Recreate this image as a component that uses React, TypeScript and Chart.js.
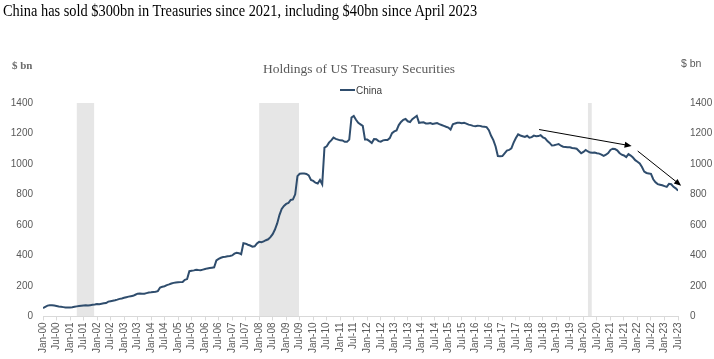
import React, { useEffect, useRef } from 'react';
import { Chart, registerables } from 'chart.js';

Chart.register(...registerables);

// ---- data ----
const MAIN_TITLE = 'China has sold $300bn in Treasuries since 2021, including $40bn since April 2023';
const CHART_TITLE = 'Holdings of US Treasury Securities';
const SERIES_LABEL = 'China';
const UNIT_LABEL = '$ bn';
const MONTHS = ['Jan', 'Feb', 'Mar', 'Apr', 'May', 'Jun', 'Jul', 'Aug', 'Sep', 'Oct', 'Nov', 'Dec'];
const START_YEAR = 2000;
const TICK_MONTH_STEP = 6;
const Y_MIN = 0;
const Y_MAX = 1400;
const Y_STEP = 200;

// Monthly holdings, $bn, Jan-00 .. Jul-23
const chinaHoldings = [
  55, 63, 71, 73, 73, 71, 68, 65, 63, 61, 59, 58, // 2000
  58, 60, 63, 66, 68, 70, 72, 73, 72, 74, 76, 78, // 2001
  81, 80, 83, 86, 88, 97, 100, 103, 106, 110, 115, 118, // 2002
  122, 126, 130, 133, 135, 142, 149, 150, 148, 149, 153, 157, // 2003
  158, 160, 162, 166, 190, 195, 198, 205, 210, 216, 220, 223, // 2004
  224, 225, 226, 240, 245, 297, 300, 302, 306, 304, 303, 307, // 2005
  311, 315, 318, 320, 322, 368, 378, 385, 390, 392, 395, 396, // 2006
  400, 412, 418, 415, 408, 480, 477, 470, 465, 458, 460, 478, // 2007
  489, 487, 492, 500, 506, 520, 540, 570, 610, 665, 705, 725, // 2008
  738, 744, 764, 768, 801, 920, 936, 938, 937, 935, 925, 895, // 2009
  889, 877, 872, 895, 867, 1108, 1116, 1140, 1155, 1173, 1165, 1160, // 2010
  1155, 1154, 1145, 1145, 1160, 1305, 1315, 1290, 1270, 1260, 1250, 1160, // 2011
  1160, 1150, 1138, 1163, 1162, 1150, 1146, 1155, 1157, 1157, 1170, 1202, // 2012
  1214, 1220, 1255, 1276, 1290, 1295, 1280, 1275, 1294, 1305, 1316, 1270, // 2013
  1272, 1273, 1266, 1266, 1268, 1262, 1265, 1268, 1261, 1256, 1250, 1244, // 2014
  1239, 1226, 1260, 1266, 1270, 1271, 1268, 1270, 1265, 1258, 1255, 1250, // 2015
  1247, 1251, 1250, 1246, 1244, 1242, 1222, 1185, 1157, 1115, 1052, 1050, // 2016
  1052, 1070, 1088, 1092, 1103, 1140, 1170, 1194, 1187, 1182, 1177, 1185, // 2017
  1172, 1176, 1186, 1182, 1183, 1189, 1175, 1168, 1150, 1138, 1121, 1123, // 2018
  1127, 1131, 1120, 1113, 1112, 1110, 1110, 1105, 1103, 1100, 1085, 1070, // 2019
  1079, 1092, 1082, 1075, 1074, 1075, 1071, 1068, 1062, 1053, 1061, 1072, // 2020
  1092, 1100, 1098, 1090, 1072, 1061, 1056, 1045, 1065, 1055, 1042, 1025, // 2021
  1015, 1003, 980, 950, 941, 938, 935, 900, 880, 868, 864, 860, // 2022
  855, 850, 870, 867, 850, 840, 825, // 2023
];

// Recession shading, month index from Jan-00
const recessionStart = [15, 96, 242];
const recessionEnd = [22.7, 113.7, 243.7];

// Annotation arrows (month index, $bn)
const arrowStartX = [220.3, 264.1];
const arrowStartY = [1226, 1085];
const arrowEndX = [261.4, 283.4];
const arrowEndY = [1118, 858];

// ---- styles ----
const LINE_COLOR = '#2f4d6d';
const TICK_COLOR = '#595959';
const SHADE_COLOR = '#e6e6e6';
const SANS = '"Liberation Sans", Arial, sans-serif';
const SERIF = '"Liberation Serif", "Times New Roman", serif';

function monthLabel(i: number): string {
  const m = ((i % 12) + 12) % 12;
  const y = START_YEAR + Math.floor(i / 12);
  return `${MONTHS[m]}-${String(y % 100).padStart(2, '0')}`;
}

const decorPlugin = {
  id: 'decor',
  beforeDraw(chart: any) {
    const { ctx, scales } = chart;
    const x = scales.x;
    const y = scales.y;
    ctx.save();
    ctx.fillStyle = '#ffffff';
    ctx.fillRect(0, 0, chart.width, chart.height);
    ctx.fillStyle = SHADE_COLOR;
    const top = y.getPixelForValue(Y_MAX);
    const bottom = y.getPixelForValue(Y_MIN);
    for (let k = 0; k < recessionStart.length; k++) {
      const x0 = x.getPixelForValue(recessionStart[k]);
      const x1 = x.getPixelForValue(recessionEnd[k]);
      ctx.fillRect(x0, top, x1 - x0, bottom - top);
    }
    ctx.restore();
  },
  afterDraw(chart: any) {
    const { ctx, scales } = chart;
    const x = scales.x;
    const y = scales.y;
    ctx.save();
    // arrows
    ctx.strokeStyle = '#000000';
    ctx.fillStyle = '#000000';
    ctx.lineWidth = 1;
    for (let k = 0; k < arrowStartX.length; k++) {
      const x0 = x.getPixelForValue(arrowStartX[k]);
      const y0 = y.getPixelForValue(arrowStartY[k]);
      const x1 = x.getPixelForValue(arrowEndX[k]);
      const y1 = y.getPixelForValue(arrowEndY[k]);
      const ang = Math.atan2(y1 - y0, x1 - x0);
      const head = 7;
      const half = 3;
      ctx.beginPath();
      ctx.moveTo(x0, y0);
      ctx.lineTo(x1 - Math.cos(ang) * head * 0.8, y1 - Math.sin(ang) * head * 0.8);
      ctx.stroke();
      ctx.beginPath();
      ctx.moveTo(x1, y1);
      ctx.lineTo(
        x1 - Math.cos(ang) * head + Math.sin(ang) * half,
        y1 - Math.sin(ang) * head - Math.cos(ang) * half
      );
      ctx.lineTo(
        x1 - Math.cos(ang) * head - Math.sin(ang) * half,
        y1 - Math.sin(ang) * head + Math.cos(ang) * half
      );
      ctx.closePath();
      ctx.fill();
    }
    // chart title
    ctx.fillStyle = '#595959';
    ctx.font = `13.5px ${SERIF}`;
    ctx.textBaseline = 'alphabetic';
    ctx.textAlign = 'center';
    ctx.fillText(CHART_TITLE, 359, 73);
    // unit labels
    ctx.textAlign = 'left';
    ctx.font = `bold 11px ${SERIF}`;
    ctx.fillStyle = '#6b6b6b';
    ctx.fillText(UNIT_LABEL, 12, 69);
    ctx.font = `10.5px ${SANS}`;
    ctx.fillStyle = TICK_COLOR;
    ctx.fillText(UNIT_LABEL, 681, 67);
    // legend
    ctx.strokeStyle = LINE_COLOR;
    ctx.lineWidth = 2;
    ctx.beginPath();
    ctx.moveTo(340, 90);
    ctx.lineTo(355, 90);
    ctx.stroke();
    ctx.fillStyle = '#404040';
    ctx.font = `10px ${SANS}`;
    ctx.fillText(SERIES_LABEL, 356, 93.5);
    ctx.restore();
  },
};

export default function App() {
  const canvasRef = useRef<HTMLCanvasElement | null>(null);

  useEffect(() => {
    const canvas = canvasRef.current;
    if (!canvas) return;
    const points = chinaHoldings.map((v, i) => ({ x: i, y: v }));
    const lastIndex = chinaHoldings.length - 1;
    const tickFont = { family: SANS, size: 10 };
    const chart = new Chart(canvas, {
      type: 'line',
      data: {
        datasets: [
          {
            label: SERIES_LABEL,
            data: points,
            borderColor: LINE_COLOR,
            backgroundColor: LINE_COLOR,
            borderWidth: 2,
            pointRadius: 0,
            tension: 0,
            fill: false,
          },
        ],
      },
      options: {
        responsive: false,
        animation: false,
        devicePixelRatio: 1,
        layout: { padding: { top: 103, left: 0, right: 0, bottom: 4 } },
        plugins: {
          legend: { display: false },
          title: { display: false },
          tooltip: { enabled: false },
        },
        scales: {
          x: {
            type: 'linear',
            min: 0,
            max: lastIndex,
            ticks: {
              stepSize: TICK_MONTH_STEP,
              autoSkip: false,
              maxRotation: 90,
              minRotation: 90,
              padding: 2,
              color: TICK_COLOR,
              font: { family: SANS, size: 10 },
              callback: (v: any) => monthLabel(Number(v)),
            },
            grid: { drawOnChartArea: false, drawTicks: true, tickLength: 4, color: '#d9d9d9' },
            border: { display: true, color: '#d9d9d9' },
          },
          y: {
            position: 'left',
            min: Y_MIN,
            max: Y_MAX,
            ticks: {
              stepSize: Y_STEP,
              padding: 10,
              color: TICK_COLOR,
              font: tickFont,
              callback: (v: any) => String(v),
            },
            grid: { display: false, drawTicks: false },
            border: { display: false },
            afterFit: (scale: any) => {
              scale.width = 43;
            },
          },
          y2: {
            position: 'right',
            min: Y_MIN,
            max: Y_MAX,
            ticks: {
              stepSize: Y_STEP,
              padding: 12,
              color: TICK_COLOR,
              font: tickFont,
              callback: (v: any) => String(v),
            },
            grid: { display: false, drawTicks: false },
            border: { display: false },
            afterFit: (scale: any) => {
              scale.width = 36;
            },
          },
        },
      } as any,
      plugins: [decorPlugin],
    });
    return () => chart.destroy();
  }, []);

  return (
    <div style={{ position: 'fixed', left: 0, top: 0, width: 714, height: 359, background: '#fff' }}>
      <canvas ref={canvasRef} width={714} height={359} style={{ position: 'absolute', left: 0, top: 0, width: 714, height: 359 }} />
      <div
        style={{
          position: 'absolute',
          left: 3,
          top: 0,
          fontFamily: SERIF,
          fontSize: 17,
          color: '#000',
          whiteSpace: 'nowrap',
          lineHeight: '22px',
          transform: 'scaleX(0.846)',
          transformOrigin: '0 0',
        }}
      >
        {MAIN_TITLE}
      </div>
    </div>
  );
}
